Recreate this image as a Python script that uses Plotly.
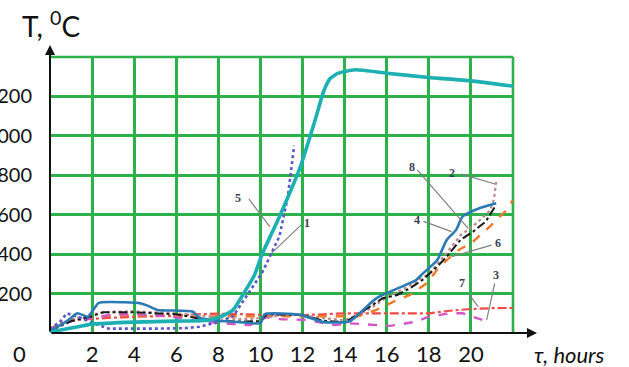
import plotly.graph_objects as go

# ---------------- data (hours, °C) ----------------
c5_h = [0, 1, 2, 4, 6, 7.5, 8.1, 8.7, 9.2, 9.7, 10.1, 10.9, 11.9, 12.6, 13.0, 13.3, 13.7, 14.5, 16, 18, 20, 22]
c5_t = [5, 25, 45, 55, 60, 65, 83, 117, 200, 290, 405, 590, 844, 1081, 1225, 1290, 1318, 1335, 1318, 1296, 1279, 1252]

c1_h = [0, 0.5, 0.8, 1.5, 2.3, 2.8, 5, 6.5, 7.1, 8, 8.7, 9.4, 10.1, 10.9, 11.3, 11.6]
c1_t = [20, 60, 100, 75, 40, 22, 22, 25, 32, 55, 85, 200, 310, 490, 690, 950]

c4_h = [0, 0.8, 1.3, 1.8, 2.3, 2.9, 4.2, 4.6, 5.1, 6.8, 7.1, 8, 9, 10, 10.2, 11.9, 13, 14.25, 15.5, 17.4, 17.7, 18.4, 18.85, 19.3, 19.6, 20.4, 21.2]
c4_t = [10, 60, 100, 83, 152, 157, 152, 140, 117, 108, 76, 62, 55, 50, 95, 92, 55, 60, 176, 269, 300, 370, 472, 523, 590, 633, 658]

c8_h = [0, 1, 2, 2.5, 4, 5, 6, 7, 8, 9, 10, 10.3, 11, 12, 13, 14, 14.6, 15.8, 16.5, 17.1, 17.7, 18.4, 18.85, 19.5, 20.1, 20.7, 21.2]
c8_t = [10, 60, 85, 105, 105, 100, 95, 75, 62, 58, 60, 95, 95, 92, 62, 55, 91, 176, 193, 227, 269, 337, 387, 472, 514, 565, 650]

c2_h = [0, 1, 2, 3, 4, 5, 6, 7, 8, 9, 10, 11, 12, 13, 14, 15, 16, 17, 18, 18.8, 19.5, 20.3, 20.9, 21.1, 21.2]
c2_t = [15, 70, 95, 108, 110, 105, 100, 90, 80, 70, 75, 90, 90, 75, 65, 110, 180, 235, 300, 400, 495, 560, 620, 680, 770]

c6_h = [0, 0.5, 1, 2, 3, 4, 5, 6, 7, 8, 9, 10, 11, 12, 13, 14, 14.6, 15.5, 16.5, 17.1, 17.9, 18.5, 19.3, 20.1, 20.9, 21.7, 22]
c6_t = [15, 40, 60, 80, 90, 90, 88, 85, 80, 85, 85, 85, 85, 85, 88, 85, 83, 117, 168, 193, 252, 335, 413, 463, 540, 624, 675]

c7_h = [0, 0.5, 1, 2, 3, 4, 5, 6, 7, 8, 9, 10, 11, 12, 13, 14, 15, 16, 17, 18, 19, 20, 21, 22]
c7_t = [20, 50, 65, 72, 78, 82, 85, 88, 95, 98, 96, 92, 92, 91, 95, 100, 100, 100, 100, 100, 113, 122, 126, 127]

c3_h = [0, 0.5, 1, 2, 3, 4, 5, 6, 7, 8, 9, 9.5, 10.3, 11, 12.2, 13.5, 14.25, 16.15, 17.4, 18, 19, 19.6, 20.3, 20.8]
c3_t = [10, 40, 60, 75, 95, 95, 90, 80, 60, 50, 42, 40, 80, 70, 66, 40, 49, 36, 57, 83, 100, 100, 74, 57]

x_ticks = [2, 4, 6, 8, 10, 12, 14, 16, 18, 20]
y_ticks = [200, 400, 600, 800, 1000, 1200]

# curve labels: (text, label_h, label_T, leader_from_h, leader_from_T, leader_to_h, leader_to_T)
curve_labels = [
    ("5", 8.93, 684, 9.45, 680, 10.45, 538),
    ("1", 12.22, 557, 11.95, 550, 10.53, 405),
    ("8", 17.18, 844, 17.45, 827, 19.87, 531),
    ("2", 19.08, 811, 19.55, 806, 21.14, 756),
    ("4", 17.45, 574, 17.75, 566, 19.08, 514),
    ("6", 21.3, 458, 20.98, 446, 19.08, 387),
    ("7", 19.56, 252, 19.87, 202, 20.35, 133),
    ("3", 21.2, 294, 21.13, 252, 20.75, 66),
]

FONT = "Lato"
GREEN = "#2DB24B"
TXT = "#111111"

fig = go.Figure()

series = [
    (c7_h, c7_t, "#F04848", "dashdot", 2.2, "linear"),
    (c6_h, c6_t, "#F07828", "dash", 2.4, "linear"),
    (c3_h, c3_t, "#D455C8", "dash", 2.4, "linear"),
    (c2_h, c2_t, "#B88A8A", "dot", 2.2, "linear"),
    (c8_h, c8_t, "#1A1A1A", "dashdot", 2.0, "linear"),
    (c1_h, c1_t, "#5A56CC", "dot", 2.6, "linear"),
    (c4_h, c4_t, "#2A7AB4", "solid", 2.6, "spline"),
    (c5_h, c5_t, "#1DB0B2", "solid", 3.6, "spline"),
]
for h, t, col, dash, w, shape in series:
    line = dict(color=col, dash=dash, width=w, shape=shape)
    if shape == "spline":
        line["smoothing"] = 0.5
    fig.add_trace(go.Scatter(x=h, y=t, mode="lines", line=line, showlegend=False,
                             hoverinfo="skip", cliponaxis=False))

shapes = [
    dict(type="line", xref="paper", yref="paper", x0=0, x1=1, y0=1, y1=1,
         line=dict(color=GREEN, width=2.6), layer="below"),
    dict(type="line", xref="paper", yref="paper", x0=1, x1=1, y0=0, y1=1,
         line=dict(color=GREEN, width=2.6), layer="below"),
]
annotations = []
for txt, lh, lt, fh, ft, th, tt in curve_labels:
    shapes.append(dict(type="line", xref="x", yref="y", x0=fh, y0=ft, x1=th, y1=tt,
                       line=dict(color="#808080", width=1.2)))
    annotations.append(dict(x=lh, y=lt, xref="x", yref="y", text="<b>" + txt + "</b>",
                            showarrow=False,
                            font=dict(family="Liberation Serif", size=12, color="#3A3F55")))

# axis arrows (paper coordinates; plot area is 463 x 276 px)
annotations.append(dict(x=1.0518, y=0, xref="paper", yref="paper", ax=-487, ay=0,
                        axref="pixel", ayref="pixel", text="", showarrow=True,
                        arrowhead=2, arrowsize=1, arrowwidth=2, arrowcolor="#111"))
annotations.append(dict(x=0, y=1.0435, xref="paper", yref="paper", ax=0, ay=288,
                        axref="pixel", ayref="pixel", text="", showarrow=True,
                        arrowhead=2, arrowsize=1, arrowwidth=2, arrowcolor="#111"))
# texts around the axes
annotations.append(dict(x=-0.065, y=1.116, xref="paper", yref="paper", text="T, <sup>0</sup>C",
                        showarrow=False, xanchor="left", yanchor="middle",
                        font=dict(family=FONT, size=28, color=TXT)))
annotations.append(dict(x=-0.0648, y=-0.0725, xref="paper", yref="paper", text="0",
                        showarrow=False, xanchor="center", yanchor="middle",
                        font=dict(family=FONT, size=22, color=TXT)))
annotations.append(dict(x=1.123, y=-0.0797, xref="paper", yref="paper", text="<i>τ, hours</i>",
                        showarrow=False, xanchor="center", yanchor="middle",
                        font=dict(family=FONT, size=22, color=TXT)))

fig.update_layout(
    width=629, height=367,
    margin=dict(l=50, r=116, t=57, b=34, autoexpand=False),
    paper_bgcolor="white", plot_bgcolor="white",
    shapes=shapes, annotations=annotations,
    xaxis=dict(range=[0, 22], tickvals=x_ticks, ticktext=[str(v) for v in x_ticks],
               showgrid=True, gridcolor=GREEN, gridwidth=2.6, zeroline=False,
               showline=False, ticks="outside", ticklen=2, tickcolor="rgba(0,0,0,0)",
               tickfont=dict(family=FONT, size=22, color=TXT), fixedrange=True,
               automargin=False),
    yaxis=dict(range=[0, 1400], tickvals=y_ticks, ticktext=[str(v) for v in y_ticks],
               showgrid=True, gridcolor=GREEN, gridwidth=2.6, zeroline=False,
               showline=False, ticks="outside", ticklen=13, tickcolor="rgba(0,0,0,0)",
               tickfont=dict(family=FONT, size=20, color=TXT), fixedrange=True,
               automargin=False),
)

# remove the browser's default body margin so the figure sits at the window's corner
fig.write_html("out.html", config={"displayModeBar": False},
               post_script="document.body.style.margin='0';document.body.style.overflow='hidden';")
